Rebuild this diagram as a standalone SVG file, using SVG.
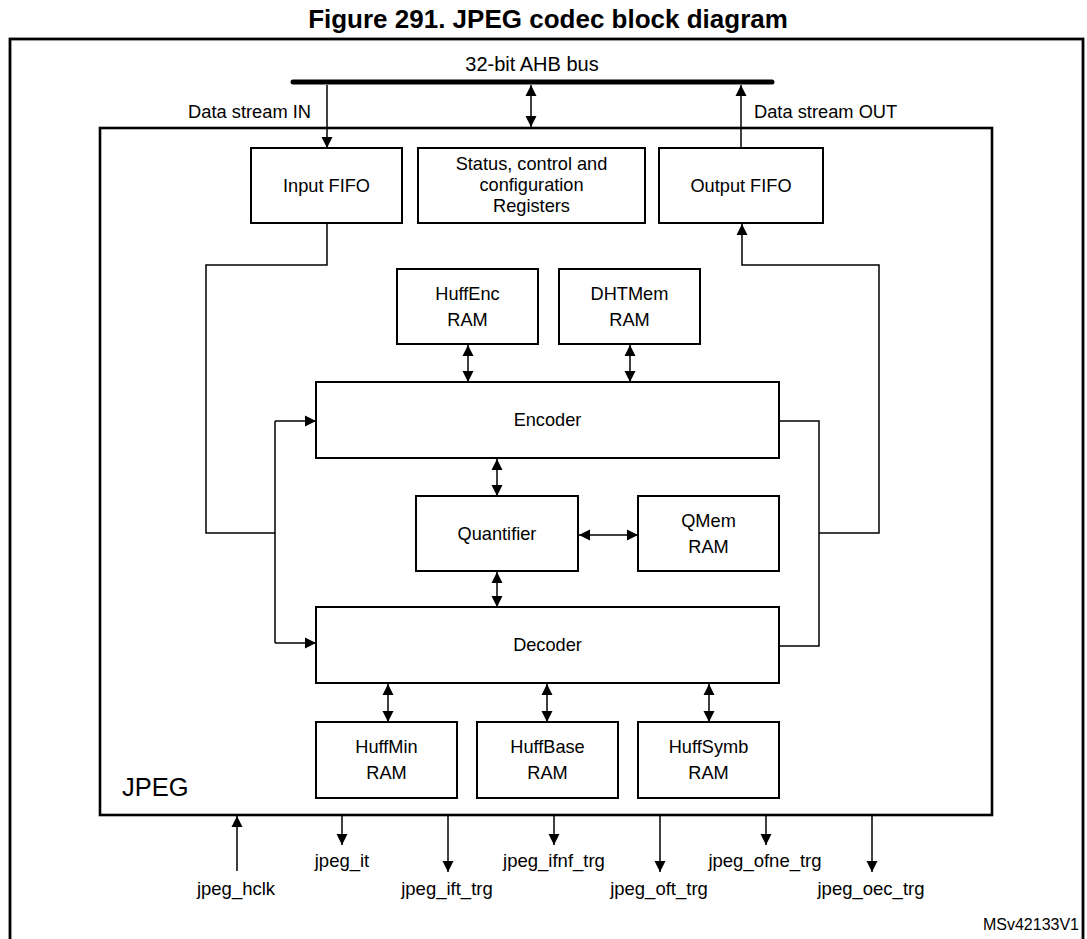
<svg xmlns="http://www.w3.org/2000/svg" width="1087" height="939" viewBox="0 0 1087 939">
<style>
.box{fill:#fff;stroke:#000;stroke-width:2}
.nt{font-family:"Liberation Sans",Arial,sans-serif;font-size:18.2px;text-anchor:middle;fill:#000}
.at{font-family:"Liberation Sans",Arial,sans-serif;fill:#000}
.c{fill:none;stroke:#000;stroke-width:1.5}
.a1{marker-end:url(#ah)}
.a2{marker-start:url(#ah);marker-end:url(#ah)}
</style>
<defs>
<marker id="ah" markerUnits="userSpaceOnUse" markerWidth="12" markerHeight="12" refX="11" refY="6" orient="auto-start-reverse" viewBox="0 0 12 12">
<path d="M0,0.5 L11,6 L0,11.5 z" fill="#000"/>
</marker>
</defs>
<rect width="1087" height="939" fill="#fff"/>
<text class="at" x="548" y="28" font-size="26" font-weight="bold" text-anchor="middle">Figure 291. JPEG codec block diagram</text>
<rect x="10" y="39" width="1073" height="910" fill="none" stroke="#000" stroke-width="2.8"/>

<g id="bus">
<line x1="293" y1="82" x2="772" y2="82" stroke="#000" stroke-width="5" stroke-linecap="round"/>
<text class="at" x="532" y="71" font-size="20" text-anchor="middle">32-bit AHB bus</text>
</g>
<g id="jpeg">
<rect x="100" y="128" width="892" height="687" fill="none" stroke="#000" stroke-width="2.6"/>
<text class="at" x="122" y="796" font-size="25.5">JPEG</text>
</g>

<g id="connectors">
<text class="at" x="311" y="118" font-size="18.3" text-anchor="end">Data stream IN</text>
<text class="at" x="754" y="118" font-size="18.3">Data stream OUT</text>
<line class="c a1" x1="327" y1="85" x2="327" y2="148"/>
<line class="c a2" x1="531" y1="85" x2="531" y2="127"/>
<line class="c a1" x1="741" y1="148" x2="741" y2="85"/>
<polyline class="c" points="327,223 327,265 206,265 206,533 275,533"/>
<line class="c" x1="275" y1="421" x2="275" y2="643"/>
<line class="c a1" x1="275" y1="421" x2="316" y2="421"/>
<line class="c a1" x1="275" y1="643" x2="316" y2="643"/>
<polyline class="c" points="779,421 819,421 819,646 779,646"/>
<polyline class="c a1" points="819,533 879,533 879,265 742,265 742,224"/>
<line class="c a2" x1="468" y1="345" x2="468" y2="382"/>
<line class="c a2" x1="630" y1="345" x2="630" y2="382"/>
<line class="c a2" x1="497" y1="459" x2="497" y2="496"/>
<line class="c a2" x1="497" y1="572" x2="497" y2="607"/>
<line class="c a2" x1="579" y1="535" x2="638" y2="535"/>
<line class="c a2" x1="388" y1="684" x2="388" y2="722"/>
<line class="c a2" x1="547" y1="684" x2="547" y2="722"/>
<line class="c a2" x1="709" y1="684" x2="709" y2="722"/>
<line class="c a1" x1="237" y1="871" x2="237" y2="816"/>
<line class="c a1" x1="342" y1="816" x2="342" y2="845"/>
<line class="c a1" x1="448" y1="816" x2="448" y2="872"/>
<line class="c a1" x1="554" y1="816" x2="554" y2="845"/>
<line class="c a1" x1="660" y1="816" x2="660" y2="872"/>
<line class="c a1" x1="766" y1="816" x2="766" y2="845"/>
<line class="c a1" x1="872" y1="816" x2="872" y2="872"/>
</g>

<g id="input_fifo"><rect class="box" x="251" y="148" width="151" height="75"/><text class="nt" x="326.5" y="192">Input FIFO</text></g>
<g id="status_regs"><rect class="box" x="418" y="148" width="227" height="75"/>
<text class="nt" x="531.5" y="169.5">Status, control and</text>
<text class="nt" x="531.5" y="190.8">configuration</text>
<text class="nt" x="531.5" y="212.1">Registers</text></g>
<g id="output_fifo"><rect class="box" x="659" y="148" width="164" height="75"/><text class="nt" x="741" y="192">Output FIFO</text></g>
<g id="huffenc_ram"><rect class="box" x="397" y="269" width="141" height="75"/><text class="nt" x="467.5" y="300">HuffEnc</text><text class="nt" x="467.5" y="326">RAM</text></g>
<g id="dhtmem_ram"><rect class="box" x="559" y="269" width="141" height="75"/><text class="nt" x="629.5" y="300">DHTMem</text><text class="nt" x="629.5" y="326">RAM</text></g>
<g id="encoder"><rect class="box" x="316" y="382" width="463" height="76"/><text class="nt" x="547.5" y="426">Encoder</text></g>
<g id="quantifier"><rect class="box" x="416" y="496" width="162" height="75"/><text class="nt" x="497" y="540">Quantifier</text></g>
<g id="qmem_ram"><rect class="box" x="638" y="496" width="141" height="75"/><text class="nt" x="708.5" y="527">QMem</text><text class="nt" x="708.5" y="553">RAM</text></g>
<g id="decoder"><rect class="box" x="316" y="607" width="463" height="76"/><text class="nt" x="547.5" y="651">Decoder</text></g>
<g id="huffmin_ram"><rect class="box" x="316" y="722" width="141" height="76"/><text class="nt" x="386.5" y="753">HuffMin</text><text class="nt" x="386.5" y="779">RAM</text></g>
<g id="huffbase_ram"><rect class="box" x="477" y="722" width="141" height="76"/><text class="nt" x="547.5" y="753">HuffBase</text><text class="nt" x="547.5" y="779">RAM</text></g>
<g id="huffsymb_ram"><rect class="box" x="638" y="722" width="141" height="76"/><text class="nt" x="708.5" y="753">HuffSymb</text><text class="nt" x="708.5" y="779">RAM</text></g>

<g id="signals" class="at" font-size="18.5" text-anchor="middle">
<text x="236" y="895">jpeg_hclk</text>
<text x="342" y="867">jpeg_it</text>
<text x="447" y="895">jpeg_ift_trg</text>
<text x="554" y="867">jpeg_ifnf_trg</text>
<text x="659" y="895">jpeg_oft_trg</text>
<text x="765" y="867">jpeg_ofne_trg</text>
<text x="871" y="895">jpeg_oec_trg</text>
</g>
<text class="at" x="1079" y="930" font-size="16" text-anchor="end">MSv42133V1</text>
</svg>
